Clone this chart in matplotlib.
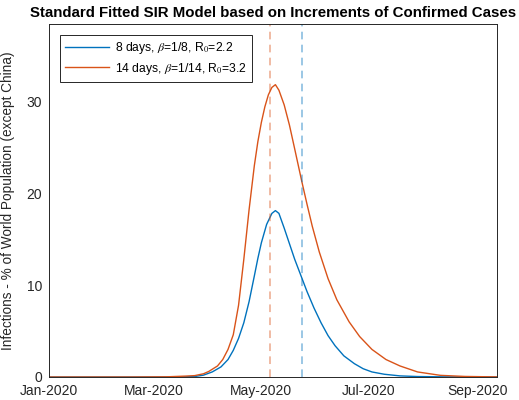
"""
Standard fitted SIR model: infections as % of world population (except China).
"""

import numpy as np
import pandas as pd
import matplotlib
matplotlib.use("Agg")
import matplotlib.pyplot as plt
import matplotlib.dates as mdates

# Data
dates_8d = ["2020-01-01", "2020-02-17", "2020-03-13", "2020-03-24", "2020-03-29",
            "2020-04-03", "2020-04-08", "2020-04-12", "2020-04-15", "2020-04-18",
            "2020-04-21", "2020-04-24", "2020-04-27", "2020-04-29", "2020-05-01",
            "2020-05-04", "2020-05-07", "2020-05-09", "2020-05-11", "2020-05-14",
            "2020-05-17", "2020-05-20", "2020-05-24", "2020-05-27", "2020-05-31",
            "2020-06-04", "2020-06-08", "2020-06-12", "2020-06-17", "2020-06-23",
            "2020-06-28", "2020-07-03", "2020-07-10", "2020-07-19", "2020-07-29",
            "2020-08-11", "2020-09-12"]
infected_8d = [0.0, 0.0, 0.01, 0.05, 0.2,
               0.55, 1.1, 1.9, 2.9, 4.2,
               5.9, 8.2, 11.0, 12.9, 14.6,
               16.6, 17.8, 18.1, 17.8, 16.2,
               14.5, 12.8, 10.8, 9.3, 7.5,
               5.9, 4.5, 3.4, 2.3, 1.45,
               0.9, 0.55, 0.3, 0.12, 0.05,
               0.02, 0.0]

dates_14d = ["2020-01-01", "2020-02-17", "2020-03-08", "2020-03-19", "2020-03-24",
             "2020-03-29", "2020-04-01", "2020-04-06", "2020-04-09", "2020-04-12",
             "2020-04-15", "2020-04-18", "2020-04-21", "2020-04-24", "2020-04-27",
             "2020-04-29", "2020-05-01", "2020-05-03", "2020-05-05", "2020-05-07",
             "2020-05-09", "2020-05-11", "2020-05-14", "2020-05-17", "2020-05-20",
             "2020-05-24", "2020-05-27", "2020-05-30", "2020-06-03", "2020-06-08",
             "2020-06-13", "2020-06-20", "2020-06-26", "2020-07-03", "2020-07-11",
             "2020-07-19", "2020-07-29", "2020-08-11", "2020-08-25", "2020-09-12"]
infected_14d = [0.0, 0.0, 0.02, 0.1, 0.15,
                0.35, 0.6, 1.2, 1.9, 3.0,
                4.6, 7.8, 12.8, 18.2, 23.0,
                25.6, 27.7, 29.4, 30.7, 31.5,
                31.8, 31.2, 29.6, 27.4, 24.8,
                21.3, 18.8, 16.4, 13.6, 10.7,
                8.4, 6.0, 4.4, 3.0, 1.9,
                1.2, 0.55, 0.18, 0.06, 0.01]

labels = [r"8 days, $\beta$=1/8, R$_0$=2.2", r"14 days, $\beta$=1/14, R$_0$=3.2"]
# vertical markers (orange first, then blue)
marker_dates = ["2020-05-06", "2020-05-24"]
xticks = ["2020-01-01", "2020-03-01", "2020-05-01", "2020-07-01", "2020-09-01"]
xlim = ["2020-01-01", "2020-09-12 06:00"]

BLUE = "#0072BD"
ORANGE = "#D95319"

plt.rcParams["font.family"] = ["Liberation Sans", "DejaVu Sans"]
plt.rcParams["mathtext.fontset"] = "stix"

fig = plt.figure(figsize=(5.19, 4.0), dpi=100)
ax = fig.add_axes([0.0944, 0.0575, 0.8632, 0.8825])

ax.plot(pd.to_datetime(dates_8d), infected_8d, color=BLUE, lw=1.0, label=labels[0])
ax.plot(pd.to_datetime(dates_14d), infected_14d, color=ORANGE, lw=1.0, label=labels[1])

ax.axvline(pd.Timestamp(marker_dates[0]), color=ORANGE, alpha=0.5, lw=1.1,
           dashes=(5, 3.5))
ax.axvline(pd.Timestamp(marker_dates[1]), color=BLUE, alpha=0.5, lw=1.1,
           dashes=(5, 3.5))

ax.set_xlim(pd.Timestamp(xlim[0]), pd.Timestamp(xlim[1]))
ax.set_ylim(0, 38.4)
ax.set_xticks(pd.to_datetime(xticks))
ax.xaxis.set_major_formatter(mdates.DateFormatter("%b-%Y"))
ax.set_yticks([0, 10, 20, 30])
ax.tick_params(length=0, labelsize=10, colors="#262626")
ax.tick_params(axis="x", pad=5)
ax.tick_params(axis="y", pad=5)

for s in ax.spines.values():
    s.set_color("#262626")
    s.set_linewidth(0.7)

ax.set_ylabel("Infections - % of World Population (except China)",
              fontsize=9.8, color="#262626", labelpad=8)
ax.set_title("Standard Fitted SIR Model based on Increments of Confirmed Cases",
             fontsize=10.8, fontweight="bold", pad=5)

leg = ax.legend(loc="upper left", fontsize=8.7, fancybox=False, framealpha=1,
                edgecolor="#262626", handlelength=3.6, handletextpad=0.5,
                borderaxespad=0.9, borderpad=0.45, labelspacing=0.35)
leg.get_frame().set_linewidth(0.7)

fig.savefig("out.png", dpi=100)
